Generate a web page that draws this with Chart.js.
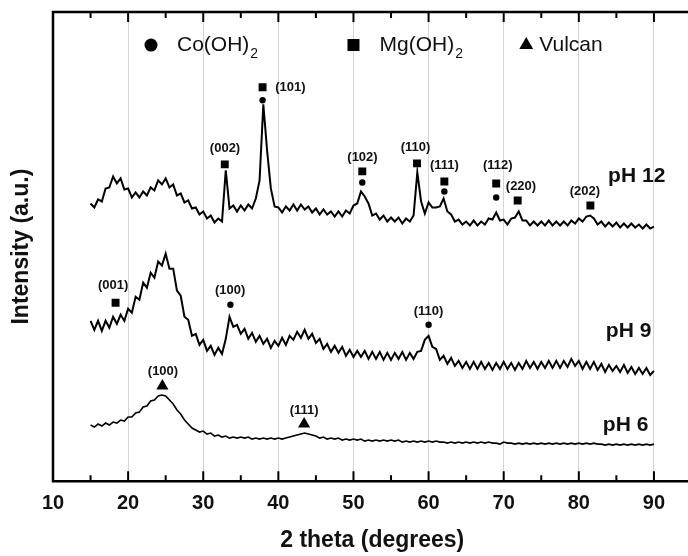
<!DOCTYPE html>
<html>
<head>
<meta charset="utf-8">
<script src="https://cdn.jsdelivr.net/npm/chart.js@4"></script>
<style>
  html, body { margin: 0; padding: 0; overflow: hidden; background: #fff; }
  #wrap { width: 700px; height: 556px; }
</style>
</head>
<body>
<div id="wrap"><canvas id="xrd" width="700" height="556"></canvas></div>
<script>
// ========== DATA ==========
const twoTheta = [
  15, 15.5, 16, 16.5, 17, 17.5, 18, 18.5, 19, 19.5,
  20, 20.5, 21, 21.5, 22, 22.5, 23, 23.5, 24, 24.5,
  25, 25.5, 26, 26.5, 27, 27.5, 28, 28.5, 29, 29.5,
  30, 30.5, 31, 31.5, 32, 32.5, 33, 33.5, 34, 34.5,
  35, 35.5, 36, 36.5, 37, 37.5, 38, 38.5, 39, 39.5,
  40, 40.5, 41, 41.5, 42, 42.5, 43, 43.5, 44, 44.5,
  45, 45.5, 46, 46.5, 47, 47.5, 48, 48.5, 49, 49.5,
  50, 50.5, 51, 51.5, 52, 52.5, 53, 53.5, 54, 54.5,
  55, 55.5, 56, 56.5, 57, 57.5, 58, 58.5, 59, 59.5,
  60, 60.5, 61, 61.5, 62, 62.5, 63, 63.5, 64, 64.5,
  65, 65.5, 66, 66.5, 67, 67.5, 68, 68.5, 69, 69.5,
  70, 70.5, 71, 71.5, 72, 72.5, 73, 73.5, 74, 74.5,
  75, 75.5, 76, 76.5, 77, 77.5, 78, 78.5, 79, 79.5,
  80, 80.5, 81, 81.5, 82, 82.5, 83, 83.5, 84, 84.5,
  85, 85.5, 86, 86.5, 87, 87.5, 88, 88.5, 89, 89.5,
  90
];

// intensities (a.u., stacked offsets included)
const ph12 = [
  277, 273, 281, 279, 292, 293, 304, 297, 302, 291,
  292, 283, 288, 283, 289, 285, 293, 290, 300, 296,
  302, 293, 296, 285, 287, 278, 280, 272, 273, 266,
  269, 262, 265, 258, 262, 259, 310, 272, 275, 269,
  275, 270, 276, 272, 282, 300, 376, 330, 292, 274,
  273, 268, 274, 270, 276, 270, 276, 271, 274, 268,
  272, 266, 271, 266, 269, 264, 269, 264, 270, 267,
  275, 277, 289, 284, 277, 265, 267, 261, 265, 259,
  263, 259, 263, 257, 262, 259, 265, 308, 279, 267,
  278, 273, 273, 274, 282, 269, 266, 259, 261, 256,
  259, 255, 260, 255, 259, 256, 262, 261, 268, 260,
  261, 256, 262, 263, 269, 260, 260, 255, 259, 255,
  259, 255, 260, 255, 259, 255, 259, 255, 260, 257,
  262, 259, 264, 265, 262, 256, 259, 254, 258, 254,
  258, 253, 257, 253, 257, 253, 256, 252, 256, 252,
  254
];

const ph9 = [
  160, 151, 160, 150, 160, 153, 164, 157, 166, 160,
  172, 168, 184, 181, 198, 193, 208, 203, 219, 215,
  227, 212, 212, 190, 185, 164, 161, 145, 147, 136,
  141, 130, 135, 126, 133, 127, 142, 164, 154, 156,
  147, 152, 142, 148, 139, 145, 137, 142, 133, 140,
  135, 143, 136, 145, 141, 149, 143, 151, 142, 147,
  138, 142, 132, 137, 129, 135, 128, 134, 125, 131,
  124, 130, 124, 130, 122, 129, 122, 129, 121, 128,
  121, 128, 122, 129, 121, 128, 122, 129, 130, 141,
  145, 134, 132, 121, 125, 117, 123, 115, 120, 113,
  119, 112, 119, 112, 119, 112, 118, 111, 118, 112,
  119, 112, 118, 111, 118, 112, 120, 113, 119, 112,
  119, 113, 120, 113, 120, 113, 120, 114, 122, 115,
  120, 112, 119, 112, 119, 111, 117, 109, 116, 110,
  115, 109, 116, 108, 114, 107, 113, 107, 113, 106,
  110
];

const ph6 = [
  56, 54, 57, 55, 58, 56, 59, 58, 61, 60,
  64, 64, 68, 69, 74, 75, 80, 81, 85, 86,
  85, 81, 77, 71, 67, 61, 57, 53, 51, 49,
  50, 47, 48, 45, 46, 44, 45, 43, 44, 43,
  44, 43, 44, 42, 43, 42, 43, 42, 43, 42,
  43, 42, 43, 44, 45, 46, 47, 48, 47, 46,
  45, 43, 44, 42, 43, 42, 43, 41, 42, 41,
  42, 41, 42, 40, 41, 40, 41, 40, 41, 40,
  41, 40, 41, 39, 40, 39, 40, 39, 40, 39,
  40, 39, 40, 39, 39, 38, 39, 38, 39, 38,
  39, 38, 39, 38, 39, 38, 39, 38, 38, 37,
  39, 38, 38, 37, 38, 37, 38, 37, 38, 37,
  38, 37, 38, 37, 38, 37, 38, 37, 38, 37,
  38, 37, 38, 37, 38, 37, 37, 36, 37, 36,
  37, 36, 37, 36, 37, 36, 37, 36, 37, 36,
  37
];

// phase markers
const mgX = [32.87, 37.9, 51.17, 58.46, 62.1, 69.0, 71.86, 81.54, 18.33];
const mgY = [316, 393, 309, 317, 299, 297, 280, 275, 178];
const coX = [37.9, 51.17, 62.1, 69.0, 33.62, 60.0];
const coY = [380, 298, 289, 283, 176, 156];
const vulcanX = [24.56, 43.43];
const vulcanY = [95, 57];

// Miller index labels
const hklText = ['(002)', '(101)', '(102)', '(110)', '(111)', '(112)', '(220)', '(202)',
                 '(001)', '(100)', '(110)', '(100)', '(111)'];
const hklX = [32.9, 41.6, 51.2, 58.25, 62.1, 69.2, 72.3, 80.8, 18.0, 33.58, 60.0, 24.64, 43.43];
const hklY = [332, 393, 323, 333, 315, 315, 294, 289, 195, 190, 169, 109, 71];

// sample labels
const sampleText = ['pH 12', 'pH 9', 'pH 6'];
const sampleX = [83.9, 83.6, 83.2];
const sampleY = [304, 150, 56];

// legend
const legendText = ['Co(OH)', 'Mg(OH)', 'Vulcan'];
const legendSub = ['2', '2', ''];
const legendX = [23.05, 50.0, 73.0];
const legendY = 435;

const xMajorTicks = [10, 20, 30, 40, 50, 60, 70, 80, 90];
const xMinorTicks = [15, 25, 35, 45, 55, 65, 75, 85];

// ========== HELPERS ==========
const pts = (xs, ys) => xs.map((x, i) => ({ x: x, y: ys[i] }));

Chart.defaults.font.family = "'Liberation Sans', Arial, sans-serif";
Chart.defaults.color = '#111';

// ========== FRAME, TICKS & TEXT PLUGIN ==========
const decorPlugin = {
  id: 'decor',
  afterDatasetsDraw(chart) {
    const { ctx, chartArea: a, scales: { x, y } } = chart;
    ctx.save();
    ctx.strokeStyle = '#000';
    ctx.lineCap = 'square';

    // frame (left, top, bottom)
    ctx.lineWidth = 2.5;
    ctx.beginPath();
    ctx.moveTo(a.right + 5, a.top);
    ctx.lineTo(a.left, a.top);
    ctx.lineTo(a.left, a.bottom);
    ctx.lineTo(a.right + 5, a.bottom);
    ctx.stroke();

    // inward ticks
    ctx.lineWidth = 2;
    ctx.lineCap = 'butt';
    const tick = (v, len) => {
      const px = x.getPixelForValue(v);
      ctx.beginPath();
      ctx.moveTo(px, a.bottom); ctx.lineTo(px, a.bottom - len);
      ctx.moveTo(px, a.top); ctx.lineTo(px, a.top + len);
      ctx.stroke();
    };
    xMajorTicks.slice(1).forEach(v => tick(v, 10));
    xMinorTicks.forEach(v => tick(v, 6));

    ctx.fillStyle = '#111';
    ctx.textAlign = 'center';
    ctx.textBaseline = 'middle';

    // hkl labels
    ctx.font = "bold 13px 'Liberation Sans', Arial, sans-serif";
    hklText.forEach((t, i) => {
      ctx.fillText(t, x.getPixelForValue(hklX[i]), y.getPixelForValue(hklY[i]));
    });

    // sample labels
    ctx.textAlign = 'left';
    ctx.font = "bold 21px 'Liberation Sans', Arial, sans-serif";
    sampleText.forEach((t, i) => {
      ctx.fillText(t, x.getPixelForValue(sampleX[i]), y.getPixelForValue(sampleY[i]));
    });

    // legend text
    legendText.forEach((t, i) => {
      const px = x.getPixelForValue(legendX[i]) + (i === 2 ? 13 : 26);
      const py = y.getPixelForValue(legendY);
      ctx.font = "21px 'Liberation Sans', Arial, sans-serif";
      ctx.fillText(t, px, py);
      if (legendSub[i]) {
        const w = ctx.measureText(t).width;
        ctx.font = "14px 'Liberation Sans', Arial, sans-serif";
        ctx.fillText(legendSub[i], px + w + 1, py + 9);
      }
    });
    ctx.restore();
  }
};

// ========== CHART ==========
const lineStyle = {
  borderColor: '#000',
  borderWidth: 2,
  pointRadius: 0,
  tension: 0,
  fill: false
};
const markerStyle = {
  showLine: false,
  backgroundColor: '#000',
  borderColor: '#000',
  borderWidth: 0
};

new Chart(document.getElementById('xrd'), {
  type: 'line',
  data: {
    datasets: [
      { ...lineStyle, label: 'pH 12', data: pts(twoTheta, ph12) },
      { ...lineStyle, label: 'pH 9', data: pts(twoTheta, ph9) },
      { ...lineStyle, label: 'pH 6', data: pts(twoTheta, ph6), borderWidth: 1.6 },
      { ...markerStyle, label: 'Mg(OH)2', data: pts(mgX, mgY), pointStyle: 'rect', pointRadius: 5.6 },
      { ...markerStyle, label: 'Co(OH)2', data: pts(coX, coY), pointStyle: 'circle', pointRadius: 3.2 },
      { ...markerStyle, label: 'Vulcan', data: pts(vulcanX, vulcanY), pointStyle: 'triangle', pointRadius: 7 },
      { ...markerStyle, label: 'legend Co', data: [{ x: legendX[0], y: legendY }], pointStyle: 'circle', pointRadius: 6.5 },
      { ...markerStyle, label: 'legend Mg', data: [{ x: legendX[1], y: legendY }], pointStyle: 'rect', pointRadius: 8.5 },
      { ...markerStyle, label: 'legend Vulcan', data: [{ x: legendX[2], y: legendY }], pointStyle: 'triangle', pointRadius: 8 }
    ]
  },
  options: {
    responsive: false,
    animation: false,
    devicePixelRatio: 1,
    layout: { padding: { top: 12, left: 0, right: 6.2, bottom: 0 } },
    plugins: {
      legend: { display: false },
      tooltip: { enabled: false }
    },
    scales: {
      x: {
        type: 'linear',
        min: 10,
        max: 95,
        afterBuildTicks: scale => { scale.ticks = xMajorTicks.map(v => ({ value: v })); },
        ticks: {
          font: { size: 20, weight: 'bold' },
          color: '#111',
          padding: 10,
          maxRotation: 0,
          autoSkip: false
        },
        grid: {
          color: c => (c.tick && c.tick.value === 10 ? 'rgba(0,0,0,0)' : '#d4d4d4'),
          lineWidth: 1,
          drawTicks: false
        },
        border: { display: false },
        title: {
          display: true,
          text: '2 theta (degrees)',
          font: { size: 23, weight: 'bold' },
          color: '#111',
          padding: { top: 1.6, bottom: 1.6 }
        }
      },
      y: {
        min: 0,
        max: 468,
        ticks: { display: false },
        grid: { display: false, drawTicks: false },
        border: { display: false },
        title: {
          display: true,
          text: 'Intensity (a.u.)',
          font: { size: 23, weight: 'bold' },
          color: '#111',
          padding: { top: 8.2, bottom: 17.2 }
        }
      }
    }
  },
  plugins: [decorPlugin]
});
</script>
</body>
</html>
